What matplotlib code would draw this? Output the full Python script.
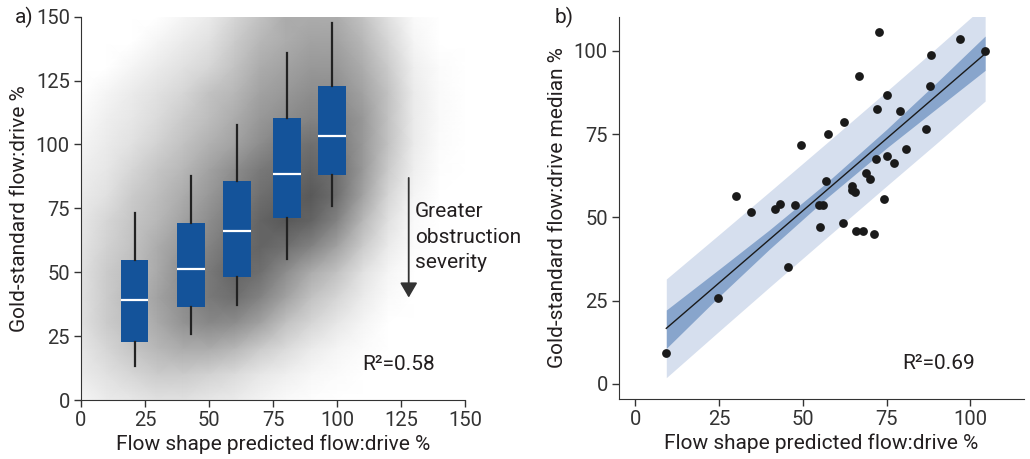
import matplotlib.pyplot as plt
from matplotlib.colors import LinearSegmentedColormap

plt.rcParams['font.family'] = ['Roboto', 'DejaVu Sans']
plt.rcParams['font.size'] = 15
plt.rcParams['text.color'] = '#231f20'
plt.rcParams['axes.labelcolor'] = '#231f20'
plt.rcParams['xtick.color'] = '#333333'
plt.rcParams['ytick.color'] = '#333333'

# --- panel a: box plots per predicted bin ---
box_pos = [21, 43, 61, 80.5, 98]
whis_lo = [13.3, 25.7, 37.2, 55.1, 76.1]
q1 = [22.6, 36.4, 48.3, 71.2, 87.9]
medians = [39.2, 51.4, 66.3, 88.5, 103.3]
q3 = [54.7, 69.2, 85.8, 110.5, 122.9]
whis_hi = [73.1, 87.7, 107.7, 135.8, 147.5]

# point cloud density (0 = white, 10 = black)
cloud_x = [0, 10, 20, 30, 40, 50, 60, 70, 80, 90, 100, 110, 120, 130, 140, 150]
cloud_y = [150, 140, 130, 120, 110, 100, 90, 80, 70, 60, 50, 40, 30, 20, 10, 0]
cloud_dark = [
    [0, 0, 0, 0, 0.5, 1, 2, 3, 4, 4, 4, 3, 1.5, 0.3, 0, 0],
    [0, 0, 0, 0.5, 1, 1.5, 2.5, 3.5, 4, 4.5, 4.5, 3.5, 2, 0.5, 0, 0],
    [0, 0, 0.5, 1, 1.5, 2, 3, 4, 4.5, 5, 5, 4, 2.5, 0.8, 0.2, 0],
    [0, 0.5, 1, 1.5, 2, 3, 3.5, 4.5, 5, 5.5, 5.5, 4.5, 3, 1, 0.3, 0],
    [0.3, 0.8, 1.2, 1.8, 2.5, 3.2, 4, 5, 5.5, 6, 6, 5, 3, 1, 0.3, 0],
    [0.5, 1, 1.5, 2.2, 3, 3.8, 4.5, 5.5, 6.5, 7, 6.5, 5, 3, 1, 0.2, 0],
    [0.8, 1.2, 2, 2.8, 3.5, 4.5, 5.5, 6.5, 7, 7.5, 7, 5, 2.5, 0.8, 0.1, 0],
    [1, 1.5, 2.5, 3.2, 4, 5, 6, 7, 7.5, 8, 7, 4.5, 2, 0.5, 0, 0],
    [1.2, 2, 2.8, 3.5, 4.5, 5.5, 6.5, 7.5, 8, 7.5, 6, 3.5, 1.5, 0.3, 0, 0],
    [1.3, 2.2, 3, 4, 5, 6, 7, 7.5, 7, 6, 4.5, 2.5, 1, 0.2, 0, 0],
    [1.5, 2.5, 3.2, 4.2, 5.5, 6.5, 7.5, 7, 5.5, 4, 3, 1.5, 0.5, 0, 0, 0],
    [1.5, 2.5, 3.5, 4.5, 5.5, 6.5, 7, 6, 4.5, 3, 2, 1, 0.3, 0, 0, 0],
    [1.5, 2.5, 3.2, 4.2, 5.2, 5.8, 5.5, 4.5, 3, 2, 1.2, 0.5, 0, 0, 0, 0],
    [1.2, 2, 2.8, 3.5, 4, 4, 3.5, 2.5, 1.8, 1, 0.5, 0.2, 0, 0, 0, 0],
    [1, 1.5, 2, 2.5, 2.5, 2.2, 1.8, 1.2, 0.8, 0.4, 0.2, 0, 0, 0, 0, 0],
    [0.5, 1, 1.2, 1.5, 1.5, 1.2, 1, 0.6, 0.3, 0.1, 0, 0, 0, 0, 0, 0],
]

# --- panel b: per-patient medians ---
pred_x = [9.3, 24.8, 30.1, 34.7, 41.7, 43.3, 47.6, 45.7, 49.6, 54.8, 56.1, 55.0, 56.8,
          57.4, 62.0, 62.4, 64.8, 65.5, 64.6, 66.0, 67.9, 66.9, 68.9, 70.2, 71.3, 71.9,
          72.0, 72.7, 74.3, 75.2, 75.2, 77.1, 78.9, 80.8, 86.7, 88.1, 88.3, 97.0, 104.4]
gold_y = [9.3, 25.7, 56.4, 51.5, 52.5, 54.0, 53.8, 35.1, 71.7, 53.8, 53.8, 47.1, 60.9,
          74.9, 48.3, 78.6, 59.4, 57.6, 58.1, 45.8, 45.8, 92.4, 63.4, 61.6, 45.1, 67.4,
          82.6, 105.6, 55.4, 68.3, 86.6, 66.4, 81.9, 70.6, 76.4, 89.4, 98.6, 103.6, 99.8]

fit_x = [9.3, 104.4]
fit_y = [16.7, 99.1]
band_x = [9.3, 25, 40, 57, 75, 90, 104.4]
ci_lo = [10.7, 26.2, 40.4, 55.7, 70.8, 82.7, 94.1]
ci_hi = [22.2, 34.4, 46.2, 60.3, 76.4, 90.5, 104.4]
pi_lo = [1.9, 15.8, 29.0, 43.8, 59.4, 72.3, 84.9]
pi_hi = [31.5, 44.8, 57.6, 72.2, 87.8, 100.9, 113.7]

fig = plt.figure(figsize=(10.3, 4.59), dpi=100)
ax1 = fig.add_axes([0.0786, 0.1285, 0.3729, 0.8351])
ax2 = fig.add_axes([0.601, 0.130, 0.3932, 0.8336])

for ax in (ax1, ax2):
    ax.spines['top'].set_visible(False)
    ax.spines['right'].set_visible(False)
    ax.spines['left'].set_color('#333333')
    ax.spines['bottom'].set_color('#333333')
    ax.tick_params(direction='out', length=5, width=1, labelsize=14.5, pad=3)

# panel a
grey = LinearSegmentedColormap.from_list('cloud', ['#ffffff', '#1c1c1c'])
ax1.pcolormesh(cloud_x, cloud_y, cloud_dark, shading='gouraud', cmap=grey,
               vmin=0, vmax=11, zorder=0, rasterized=True)

stats = [dict(whislo=a, q1=b, med=c, q3=d, whishi=e, fliers=[])
         for a, b, c, d, e in zip(whis_lo, q1, medians, q3, whis_hi)]
ax1.bxp(stats, positions=box_pos, widths=10.7, patch_artist=True, showcaps=False,
        boxprops=dict(facecolor='#14539a', edgecolor='#14539a', linewidth=0),
        medianprops=dict(color='white', linewidth=1.6),
        whiskerprops=dict(color='#222222', linewidth=1.6),
        manage_ticks=False)

ax1.annotate('', xy=(128, 39), xytext=(128, 88),
             arrowprops=dict(arrowstyle='-|>,head_width=0.35,head_length=0.6',
                             color='#333333', lw=1.3))
ax1.text(130.5, 77.5, 'Greater\nobstruction\nseverity', fontsize=15,
         va='top', ha='left', linespacing=1.45)
ax1.text(110, 14, 'R²=0.58', fontsize=15, va='center', ha='left')

ax1.set_xlim(0, 150)
ax1.set_ylim(0, 150)
ax1.set_xticks([0, 25, 50, 75, 100, 125, 150])
ax1.set_yticks([0, 25, 50, 75, 100, 125, 150])
ax1.set_xlabel('Flow shape predicted flow:drive %', fontsize=15, labelpad=3)
ax1.set_ylabel('Gold-standard flow:drive %', fontsize=15, labelpad=5)
fig.text(0.014, 0.962, 'a)', fontsize=15, va='center')

# panel b
ax2.fill_between(band_x, pi_lo, pi_hi, color='#d6dfee', lw=0, zorder=1)
ax2.fill_between(band_x, ci_lo, ci_hi, color='#88a5cc', lw=0, zorder=2)
ax2.plot(fit_x, fit_y, color='#1a1a1a', lw=1, zorder=3)
ax2.scatter(pred_x, gold_y, s=40, color='#1a1a1a', lw=0, zorder=4)
ax2.text(79.6, 6.2, 'R²=0.69', fontsize=15, va='center', ha='left')

ax2.set_xlim(-4.8, 116)
ax2.set_ylim(-4.6, 110.2)
ax2.set_xticks([0, 25, 50, 75, 100])
ax2.set_yticks([0, 25, 50, 75, 100])
ax2.set_xlabel('Flow shape predicted flow:drive %', fontsize=15, labelpad=3)
ax2.set_ylabel('Gold-standard flow:drive median %', fontsize=15, labelpad=5)
fig.text(0.538, 0.962, 'b)', fontsize=15, va='center')

fig.savefig('out.png', dpi=100)
